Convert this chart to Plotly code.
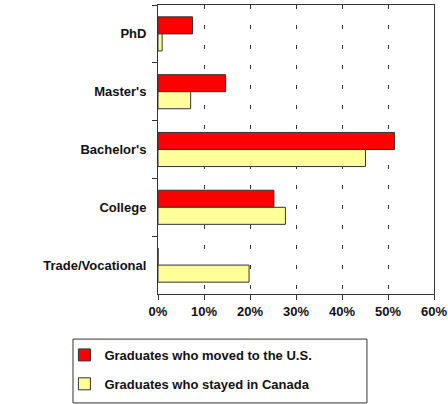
import plotly.graph_objects as go

categories = ["PhD", "Master's", "Bachelor's", "College", "Trade/Vocational"]
moved_us = [7.5, 14.7, 51.4, 25.2, 0]
stayed_canada = [0.9, 7.1, 45.1, 27.7, 19.8]
x_ticks = [0, 10, 20, 30, 40, 50, 60]
x_tick_labels = [f"{v}%" for v in x_ticks]
series_names = ["Graduates who moved to the U.S.", "Graduates who stayed in Canada"]

font_family = "Liberation Sans, Arial, sans-serif"

fig = go.Figure()
fig.add_trace(go.Bar(
    y=categories, x=moved_us, orientation="h", name=series_names[0],
    legendgroup="a",
    marker=dict(color="#FF0000", line=dict(color="#333333", width=1)),
))
fig.add_trace(go.Bar(
    y=categories, x=stayed_canada, orientation="h", name=series_names[1],
    legendgroup="b",
    marker=dict(color="#FFFF99", line=dict(color="#333333", width=1)),
))

# legend frame
fig.add_shape(
    type="rect", xref="paper", yref="paper",
    x0=-0.308, x1=0.757, y0=-0.377, y1=-0.156,
    line=dict(color="#333333", width=1), fillcolor="rgba(0,0,0,0)",
)

fig.update_layout(
    width=448, height=404,
    margin=dict(l=158, r=14, t=5, b=110, autoexpand=False),
    paper_bgcolor="white", plot_bgcolor="white",
    barmode="group", bargap=0.41, bargroupgap=0,
    font=dict(family=font_family, size=13, color="#111111"),
    showlegend=True,
    legend=dict(
        x=-0.339, y=-0.159, xanchor="left", yanchor="top",
        borderwidth=0, bgcolor="rgba(0,0,0,0)",
        font=dict(family=font_family, size=13, color="#111111", weight="bold"),
        traceorder="grouped", itemwidth=30, tracegroupgap=9,
    ),
)

fig.update_xaxes(
    range=[0, 60], tickvals=x_ticks, ticktext=x_tick_labels,
    showgrid=True, gridcolor="#333333", gridwidth=1, griddash="4px,16px",
    showline=True, linecolor="#333333", linewidth=1, mirror=True,
    ticks="outside", ticklen=5, tickcolor="#333333",
    tickfont=dict(family=font_family, size=13, weight="bold"),
    zeroline=False, fixedrange=True, automargin=False,
)
fig.update_yaxes(
    autorange="reversed", type="category",
    showgrid=False,
    showline=True, linecolor="#333333", linewidth=1, mirror=True,
    ticks="outside", ticklen=5, tickcolor="#333333", tickson="boundaries",
    tickfont=dict(family=font_family, size=13, weight="bold"),
    ticklabelstandoff=8, fixedrange=True, automargin=False,
)

fig.write_html(
    "out.html",
    config={"displayModeBar": False},
    post_script="document.body.style.margin='0';document.body.style.overflow='hidden';",
)
